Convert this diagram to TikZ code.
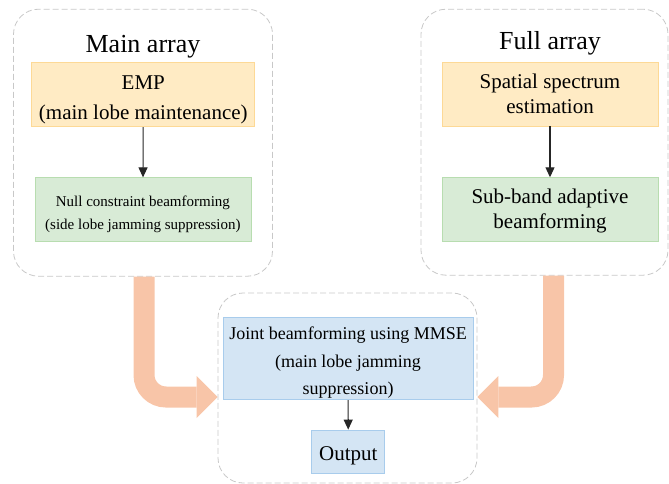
\documentclass[tikz,border=0pt]{standalone}
\usepackage{fontspec}
\setmainfont{Liberation Serif}
\usepackage{xcolor}
\usepackage{tikz}
\usetikzlibrary{arrows.meta, positioning}
\definecolor{corangeF}{RGB}{255,235,196}
\definecolor{corangeD}{RGB}{253,217,150}
\definecolor{cgreenF} {RGB}{216,235,214}
\definecolor{cgreenD} {RGB}{184,221,176}
\definecolor{cblueF}  {RGB}{212,229,244}
\definecolor{cblueD}  {RGB}{168,204,236}
\definecolor{cfat}    {RGB}{248,197,168}
\definecolor{cdash}   {RGB}{200,200,200}
\newcommand{\tstrut}[1]{\rule{0pt}{#1}}
\tikzset{
  bb/.style={rectangle, draw=c#1D, fill=c#1F, line width=0.8pt,
             align=center, inner sep=0pt},
  grp/.style={rectangle, draw=cdash, line width=0.8pt,
              dash pattern=on 6pt off 3pt, rounded corners=25pt},
  ttl/.style={font=\fontsize{26}{30}\selectfont, anchor=base},
  arr/.style={-{Triangle[length=10pt,width=9pt]}, line width=1.1pt, color=black!85},
  fat/.style={line width=21pt, color=cfat, rounded corners=22pt,
              -{Triangle[length=21pt,width=42pt,line width=0pt]}},
}

\begin{document}
\begin{tikzpicture}[x=1pt, y=-1pt]
  \useasboundingbox (0,0) rectangle (669,484);

  % -- Group frames ---------------------------------------------------------
  \node[grp, minimum width=259pt, minimum height=267pt] at (143,142.7) (maingrp)  {};
  \node[grp, minimum width=247pt, minimum height=266pt] at (544.5,142.2) (fullgrp) {};
  \node[grp, minimum width=259pt, minimum height=190pt] at (347.5,388) (jointgrp) {};

  % -- Titles ---------------------------------------------------------------
  \node[ttl] at (143,53) (maintitle) {Main array};
  \node[ttl] at (550,50) (fulltitle) {Full array};

  % -- Blocks ---------------------------------------------------------------
  \node[bb=orange, minimum width=223pt, minimum height=64pt,
        font=\fontsize{21}{30}\selectfont] at (143.3,94.7) (emp)
        {\tstrut{24pt}EMP\\(main lobe maintenance)};
  \node[bb=green, minimum width=216pt, minimum height=64pt,
        font=\fontsize{15}{23}\selectfont] at (142.9,209.8) (null)
        {\tstrut{20.5pt}Null constraint beamforming\\(side lobe jamming suppression)};
  \node[bb=orange, minimum width=216pt, minimum height=64pt,
        font=\fontsize{21}{24.5}\selectfont] at (550,94) (spat)
        {Spatial spectrum\\estimation};
  \node[bb=green, minimum width=216pt, minimum height=64pt,
        font=\fontsize{21}{25}\selectfont] at (550,209.7) (sub)
        {\tstrut{18pt}Sub-band adaptive\\beamforming};
  \node[bb=blue, minimum width=250pt, minimum height=82pt,
        font=\fontsize{18}{27.5}\selectfont] at (348,358.8) (joint)
        {\tstrut{20.5pt}Joint beamforming using MMSE\\(main lobe jamming\\suppression)};
  \node[bb=blue, minimum width=73pt, minimum height=43pt,
        font=\fontsize{21}{25}\selectfont] at (348.3,451.5) (out)
        {\tstrut{22pt}Output};

  % -- Arrows ---------------------------------------------------------------
  \draw[arr] (emp)   -- (null);
  \draw[arr] (spat)  -- (sub);
  \draw[arr] (joint) -- (out);
  \draw[fat] ([xshift=1pt]maingrp.south)  |- ([yshift=-9pt]jointgrp.west);
  \draw[fat] ([xshift=9pt]fullgrp.south)  |- ([yshift=-9pt]jointgrp.east);
\end{tikzpicture}
\end{document}
